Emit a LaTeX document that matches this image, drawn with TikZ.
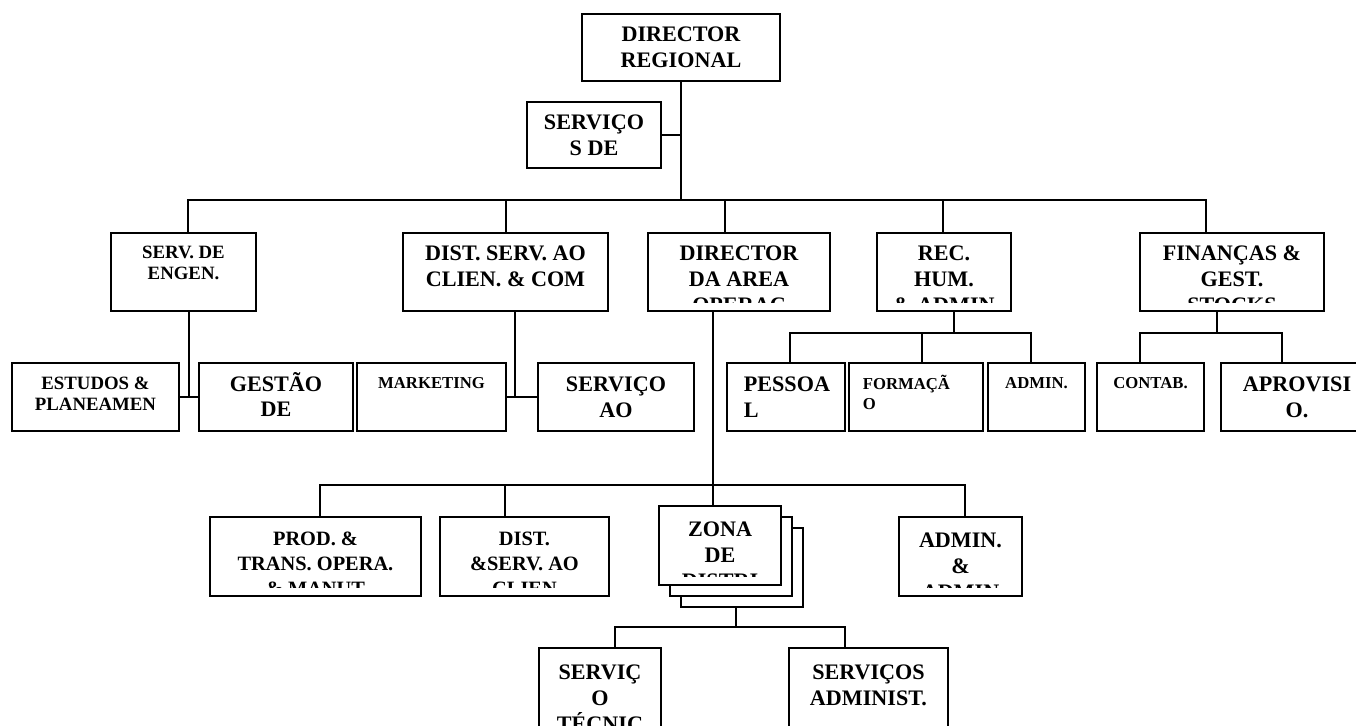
\documentclass[tikz,border=0pt]{standalone}
\usepackage{fontspec}
\setmainfont{Liberation Serif}
\newcommand{\boxlabel}[4][]{%
  \begin{scope}
    \clip ([yshift=9*0.02cm]#2.south west) rectangle (#2.north east);
    \node[lbl, #1] (#2-txt) at ([yshift=-#3*0.02cm]#2.north) {#4};
  \end{scope}}

\begin{document}
\begin{tikzpicture}[
    x=0.02cm, y=-0.02cm, line width=1pt,
    % Box styles
    box/.style={rectangle, draw, fill=white, inner sep=0pt},
    sz/.style 2 args={minimum width=#1*0.02cm, minimum height=#2*0.02cm},
    % Text styles
    lbl/.style={align=center, inner sep=0pt, anchor=north,
      font=\fontsize{12.6}{14.7}\selectfont\bfseries},
    fmid/.style={font=\fontsize{10.7}{11.9}\selectfont\bfseries},
    fsmall/.style={font=\fontsize{9.5}{11.3}\selectfont\bfseries},
    fprod/.style={font=\fontsize{11.6}{14.2}\selectfont\bfseries}
  ]
  \clip (0,0) rectangle (1356,725);

  % ============ Top ============
  \node[box, sz={198}{67}] (dirreg) at (681,47.5) {};
  \node[box, sz={134}{66}] (servde) at (594,135) {};

  % ============ Level 2 ============
  \node[box, sz={145}{78}] (engen) at (183.5,272) {};
  \node[box, sz={205}{78}] (distcli) at (505.5,272) {};
  \node[box, sz={182}{78}] (dirop) at (739,272) {};
  \node[box, sz={134}{78}] (rechum) at (944,272) {};
  \node[box, sz={184}{78}] (financas) at (1232,272) {};

  % ============ Level 3 ============
  \node[box, sz={167}{68}] (estudos) at (95.5,397) {};
  \node[box, sz={154}{68}] (gestao) at (276,397) {};
  \node[box, sz={149}{68}] (marketing) at (431.5,397) {};
  \node[box, sz={156}{68}] (servcli) at (616,397) {};
  \node[box, sz={118}{68}] (pessoal) at (786,397) {};
  \node[box, sz={134}{68}] (formacao) at (916,397) {};
  \node[box, sz={97}{68}] (admin) at (1036.5,397) {};
  \node[box, sz={107}{68}] (contab) at (1150.5,397) {};
  \node[box, sz={152}{68}] (aprovisio) at (1297,397) {};

  % ============ Level 4 ============
  \node[box, sz={211}{79}] (prodtrans) at (315.5,556.5) {};
  \node[box, sz={169}{79}] (distserv) at (524.5,556.5) {};
  \node[box, sz={122}{79}] (zona3) at (742,567.5) {};
  \node[box, sz={122}{79}] (zona2) at (731,556.5) {};
  \node[box, sz={122}{79}] (zona) at (720,545.5) {};
  \node[box, sz={123}{79}] (adminadm) at (960.5,556.5) {};

  % ============ Level 5 ============
  \node[box, sz={122}{92}] (servtec) at (600,694) {};
  \node[box, sz={159}{92}] (servadm) at (868.5,694) {};

  % ============ Connectors ============
  \path (dirreg.south) ++(0,118) coordinate (bus0);
  \draw (dirreg.south) -- (bus0);
  \draw (servde.east) -- (servde.east -| bus0);
  \foreach \n/\dx in {engen/4.5, distcli/0.5, dirop/-14, rechum/-1, financas/-26}
    \draw (bus0) -| ([xshift=\dx*0.02cm]\n.north);

  \draw ([xshift=5.5*0.02cm]engen.south) |- (estudos.east);
  \draw (estudos.east) -- (gestao.west);
  \draw ([xshift=9.5*0.02cm]distcli.south) |- (marketing.east);
  \draw (marketing.east) -- (servcli.west);

  \path ([xshift=10*0.02cm]rechum.south) ++(0,21) coordinate (bus1);
  \draw ([xshift=10*0.02cm]rechum.south) -- (bus1);
  \foreach \n/\dx in {pessoal/4, formacao/6, admin/-5.5}
    \draw (bus1) -| ([xshift=\dx*0.02cm]\n.north);

  \path ([xshift=-15*0.02cm]financas.south) ++(0,21) coordinate (bus2);
  \draw ([xshift=-15*0.02cm]financas.south) -- (bus2);
  \foreach \n/\dx in {contab/-10.5, aprovisio/-15}
    \draw (bus2) -| ([xshift=\dx*0.02cm]\n.north);

  \draw ([xshift=-26*0.02cm]dirop.south) -- ([xshift=-26*0.02cm]dirop.south |- zona.north);
  \path ([xshift=-26*0.02cm]dirop.south) ++(0,173) coordinate (bus3);
  \foreach \n/\dx in {prodtrans/4.5, distserv/-19.5, adminadm/4.5}
    \draw (bus3) -| ([xshift=\dx*0.02cm]\n.north);

  \path ([xshift=-6*0.02cm]zona3.south) ++(0,19) coordinate (bus4);
  \draw ([xshift=-6*0.02cm]zona3.south) -- (bus4);
  \foreach \n/\dx in {servtec/15, servadm/-23.5}
    \draw (bus4) -| ([xshift=\dx*0.02cm]\n.north);

  % ============ Labels ============
  \boxlabel{dirreg}{13}{DIRECTOR\\REGIONAL}
  \boxlabel{servde}{13}{SERVIÇO\\S DE}
  \boxlabel[fmid]{engen}{13}{SERV. DE\\ENGEN.}
  \boxlabel{distcli}{13}{DIST. SERV. AO\\CLIEN. \& COM}
  \boxlabel{dirop}{13}{DIRECTOR\\DA AREA\\OPERAC}
  \boxlabel{rechum}{13}{REC.\\HUM.\\\& ADMIN}
  \boxlabel{financas}{13}{FINANÇAS \&\\GEST.\\STOCKS}

  \boxlabel[fmid]{estudos}{14}{ESTUDOS \&\\PLANEAMEN}
  \boxlabel{gestao}{9}{GESTÃO\\DE}
  \boxlabel[fsmall]{marketing}{14}{MARKETING}
  \boxlabel{servcli}{14}{SERVIÇO\\AO}
  \boxlabel[anchor=north west, align=left, xshift=-43*0.02cm]{pessoal}{14}{PESSOA\\L}
  \boxlabel[fsmall, anchor=north west, align=left, xshift=-54*0.02cm]{formacao}{12}{FORMAÇÃ\\O}
  \boxlabel[fsmall]{admin}{14}{ADMIN.}
  \boxlabel[fsmall]{contab}{14}{CONTAB.}
  \boxlabel{aprovisio}{14}{APROVISI\\O.}

  \boxlabel[fprod]{prodtrans}{15}{PROD. \&\\TRANS. OPERA.\\\& MANUT}
  \boxlabel[fprod]{distserv}{15}{DIST.\\\&SERV. AO\\CLIEN}
  \boxlabel{zona}{16}{ZONA\\DE\\DISTRI}
  \boxlabel{adminadm}{16}{ADMIN.\\\&\\ADMIN}

  \boxlabel{servtec}{17}{SERVIÇ\\O\\TÉCNIC}
  \boxlabel{servadm}{17}{SERVIÇOS\\ADMINIST.}
\end{tikzpicture}
\end{document}
